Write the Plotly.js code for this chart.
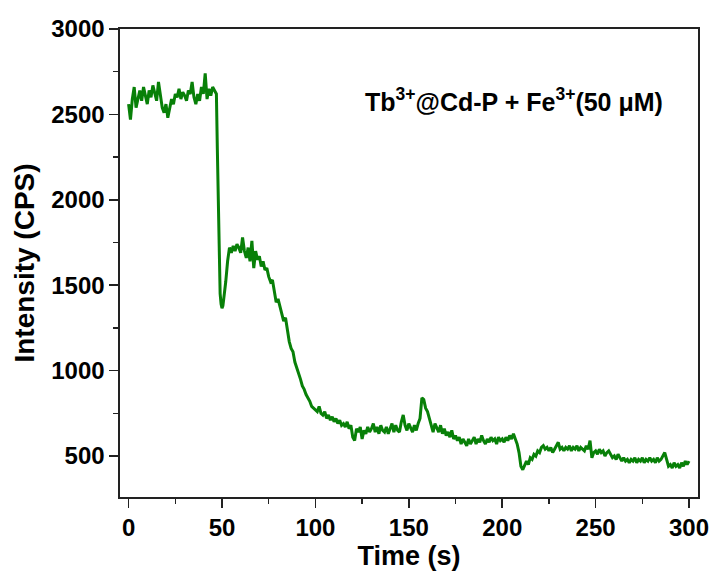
<!DOCTYPE html>
<html>
<head>
<meta charset="utf-8">
<script src="https://cdn.plot.ly/plotly-3.0.1.min.js"></script>
<style>html,body{margin:0;padding:0;background:#fff;}#chart{width:714px;height:573px;}</style>
</head>
<body>
<div id="chart"></div>
<script>
// Time (s)
const time = [
0,1,2,3,4,5,6,7,8,9,10,11,12,13,14,15,16,17,18,19,20,21,22,23,24,25,26,27,28,29,
30,31,32,33,34,35,36,37,38,39,40,41,42,43,44,45,46,47,47.5,48,48.5,49,49.5,50,50.5,51,
52,53,54,55,56,57,58,59,60,61,62,63,64,65,66,67,68,69,70,71,72,73,74,75,76,77,78,79,
80,81,82,83,84,85,86,87,88,89,90,91,92,93,94,95,96,97,98,99,100,101,102,103,104,105,106,107,108,109,
110,111,112,113,114,115,116,117,118,119,120,121,122,123,124,125,126,127,128,129,130,131,132,133,134,135,136,137,138,139,
140,141,142,143,144,145,146,147,148,149,150,151,152,153,154,155,156,157,158,159,160,161,162,163,164,165,166,167,168,169,
170,171,172,173,174,175,176,177,178,179,180,181,182,183,184,185,186,187,188,189,190,191,192,193,194,195,196,197,198,199,
200,201,202,203,204,205,206,207,208,209,210,211,212,213,214,215,216,217,218,219,220,221,222,223,224,225,226,227,228,229,
230,231,232,233,234,235,236,237,238,239,240,241,242,243,244,245,246,247,248,249,250,251,252,253,254,255,256,257,258,259,
260,261,262,263,264,265,266,267,268,269,270,271,272,273,274,275,276,277,278,279,280,281,282,283,284,285,286,287,288,289,
290,291,292,293,294,295,296,297,298,299,300
];
// Intensity (CPS)
const intensity = [
2560,2470,2590,2660,2540,2600,2640,2580,2660,2610,2560,2640,2600,2670,2620,2580,2690,2620,2540,2510,2560,2480,2540,2590,2560,2620,2600,2650,2590,2630,
2610,2580,2640,2620,2690,2600,2560,2620,2580,2660,2620,2740,2590,2650,2610,2660,2640,2620,2300,1950,1650,1450,1390,1365,1380,1420,
1520,1640,1720,1690,1730,1700,1740,1720,1690,1780,1700,1660,1720,1640,1760,1600,1700,1650,1670,1610,1640,1590,1600,1550,1520,1530,1450,1400,
1420,1370,1330,1290,1310,1230,1170,1130,1110,1050,1020,990,950,910,890,860,840,820,790,780,770,760,790,750,740,760,720,740,710,730,
700,720,690,710,680,690,670,700,660,680,610,590,660,640,670,600,650,630,670,640,660,690,640,670,630,680,650,640,670,630,
660,690,640,680,650,640,700,740,680,650,690,660,640,680,650,690,720,840,830,780,760,720,680,640,690,660,640,680,630,660,
620,640,610,650,600,620,590,610,570,600,580,560,600,570,590,610,570,600,580,620,590,570,600,580,610,590,600,570,610,590,
600,580,610,590,620,600,630,600,570,520,440,420,450,470,450,490,480,510,500,530,520,550,560,540,550,530,550,520,540,560,
580,540,550,530,550,540,560,530,550,540,560,530,550,540,530,560,540,590,490,520,530,510,540,520,530,500,520,530,510,490,
500,480,510,490,470,490,470,480,460,480,470,490,460,480,470,490,460,480,470,490,470,480,460,490,470,480,500,520,480,440,
450,430,460,440,450,430,460,440,470,450,470
];
const xTickVals = [0,50,100,150,200,250,300];
const yTickVals = [500,1000,1500,2000,2500,3000];
const xTitle = 'Time (s)';
const yTitle = 'Intensity (CPS)';
const label = 'Tb<sup>3+</sup>@Cd-P + Fe<sup>3+</sup>(50 μM)';

const fontFam = '"Liberation Sans", Arial, sans-serif';
const axisCommon = {
  showline: true, mirror: true, linecolor: '#222', linewidth: 1.6,
  ticks: 'outside', ticklen: 9, tickwidth: 1.5, tickcolor: '#222',
  showgrid: false, zeroline: false,
  tickfont: {family: fontFam, size: 24, color: '#000', weight: 'bold'}
};
const layout = {
  width: 714, height: 573,
  margin: {l: 120, r: 16, t: 29, b: 76},
  paper_bgcolor: '#fff', plot_bgcolor: '#fff',
  showlegend: false,
  xaxis: Object.assign({}, axisCommon, {
    range: [-4.6, 304.8], tickmode: 'array', tickvals: xTickVals,
    minor: {ticks: 'outside', ticklen: 5, tickwidth: 1.3, tickcolor: '#222', dtick: 25, tick0: 0},
    title: {text: xTitle, font: {family: fontFam, size: 27, color: '#000', weight: 'bold'}, standoff: 2}
  }),
  yaxis: Object.assign({}, axisCommon, {
    range: [260, 3000], tickmode: 'array', tickvals: yTickVals,
    minor: {ticks: 'outside', ticklen: 5, tickwidth: 1.3, tickcolor: '#222', dtick: 250, tick0: 0},
    title: {text: yTitle, font: {family: fontFam, size: 28, color: '#000', weight: 'bold'}, standoff: 8}
  }),
  annotations: [{
    xref: 'paper', yref: 'paper', x: 0.682, y: 0.848,
    xanchor: 'center', yanchor: 'middle', showarrow: false,
    text: label, font: {family: fontFam, size: 25, color: '#000', weight: 'bold'}
  }]
};
const trace = {
  x: time, y: intensity, type: 'scatter', mode: 'lines',
  line: {color: '#088008', width: 3}
};
Plotly.newPlot('chart', [trace], layout, {displayModeBar: false, staticPlot: true});
</script>
</body>
</html>
